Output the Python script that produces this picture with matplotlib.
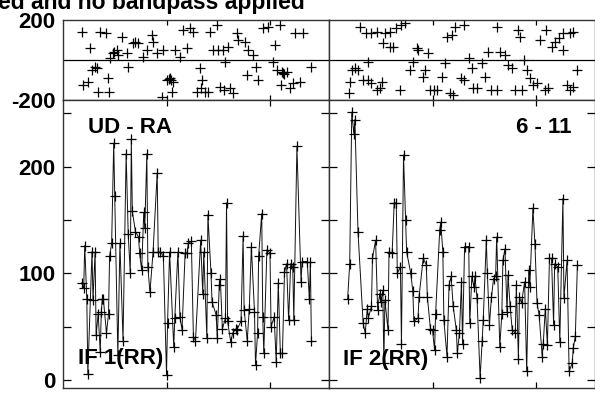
import matplotlib
matplotlib.use("Agg")
from matplotlib import pyplot as plt

# Amplitud (panel inferior) - tiempo en horas relativas
T_AMP_IF1 = [0.18, 0.20, 0.21, 0.23, 0.24, 0.28, 0.29, 0.31, 0.32, 0.34, 0.36, 0.37, 0.38, 0.39,
             0.42, 0.44, 0.45, 0.47, 0.49, 0.50, 0.53, 0.55, 0.58, 0.61, 0.63, 0.65, 0.66, 0.67,
             0.70, 0.73, 0.74, 0.76, 0.78, 0.79, 0.81, 0.82, 0.84, 0.87, 0.91, 0.92, 0.94, 0.97,
             1.00, 1.01, 1.03, 1.07, 1.08, 1.11, 1.13, 1.15, 1.18, 1.20, 1.21, 1.24, 1.26, 1.28,
             1.33, 1.35, 1.36, 1.39, 1.40, 1.43, 1.44, 1.48, 1.49, 1.51, 1.52, 1.54, 1.57, 1.58,
             1.59, 1.62, 1.64, 1.67, 1.68, 1.72, 1.74, 1.75, 1.78, 1.80, 1.82, 1.85, 1.86, 1.88,
             1.89, 1.92, 1.93, 1.94, 1.97, 2.00, 2.01, 2.04, 2.06, 2.08, 2.10, 2.12, 2.14, 2.16,
             2.18, 2.20, 2.22, 2.23, 2.26, 2.30, 2.31, 2.36, 2.38, 2.39, 2.40]
AMP_IF1 = [91, 86, 126, 76, 6, 120, 75, 120, 42, 62, 26, 64, 76, 76,
           44, 62, 116, 128, 222, 172, 23, 128, 37, 212, 137, 100, 226, 158,
           139, 134, 119, 103, 157, 142, 212, 106, 82, 120, 194, 120, 120, 116,
           5, 53, 120, 31, 58, 120, 59, 47, 119, 119, 128, 130, 40, 37,
           131, 81, 120, 39, 155, 100, 73, 61, 39, 89, 95, 48, 58, 166,
           55, 36, 44, 48, 47, 55, 135, 66, 37, 67, 125, 64, 14, 44,
           116, 156, 59, 25, 122, 119, 50, 59, 17, 91, 25, 25, 101, 109,
           56, 109, 106, 56, 219, 92, 111, 111, 76, 111, 37]

T_AMP_IF2 = [0.18, 0.20, 0.22, 0.24, 0.25, 0.28, 0.33, 0.35, 0.37, 0.38, 0.41, 0.42, 0.45, 0.47,
             0.49, 0.50, 0.52, 0.53, 0.54, 0.57, 0.58, 0.61, 0.63, 0.65, 0.66, 0.69, 0.70, 0.72,
             0.74, 0.75, 0.79, 0.81, 0.82, 0.86, 0.87, 0.91, 0.94, 0.95, 0.98, 1.00, 1.02, 1.03,
             1.07, 1.08, 1.10, 1.11, 1.14, 1.16, 1.18, 1.20, 1.23, 1.24, 1.26, 1.28, 1.29, 1.31,
             1.35, 1.36, 1.38, 1.40, 1.41, 1.43, 1.46, 1.48, 1.49, 1.52, 1.53, 1.55, 1.57, 1.59,
             1.61, 1.62, 1.65, 1.67, 1.68, 1.70, 1.72, 1.73, 1.75, 1.77, 1.80, 1.81, 1.83, 1.84,
             1.86, 1.89, 1.91, 1.93, 1.94, 1.97, 1.99, 2.01, 2.03, 2.06, 2.07, 2.09, 2.11, 2.13,
             2.15, 2.17, 2.18, 2.21, 2.23, 2.26, 2.27, 2.30, 2.32, 2.35, 2.36, 2.38, 2.40]
AMP_IF2 = [76, 109, 251, 231, 244, 139, 53, 44, 67, 58, 69, 114, 131, 66,
           81, 73, 84, 16, 75, 47, 120, 119, 166, 166, 100, 106, 34, 211,
           150, 120, 100, 83, 55, 58, 78, 114, 108, 78, 48, 47, 28, 62,
           141, 148, 120, 56, 22, 89, 97, 69, 47, 25, 44, 92, 34, 125,
           125, 53, 97, 87, 97, 77, 2, 37, 56, 131, 100, 52, 78, 95,
           97, 134, 31, 62, 112, 123, 64, 98, 69, 47, 44, 89, 20, 78,
           72, 92, 8, 103, 87, 161, 127, 72, 61, 22, 34, 67, 33, 114,
           114, 52, 109, 106, 36, 170, 77, 112, 8, 16, 30, 41, 108]

# Fase (panel superior)
T_PHS_IF1 = [0.18, 0.19, 0.24, 0.26, 0.28, 0.31, 0.33, 0.34, 0.36, 0.42, 0.43, 0.44, 0.45, 0.48,
             0.49, 0.52, 0.53, 0.57, 0.62, 0.63, 0.68, 0.70, 0.72, 0.77, 0.81, 0.86, 0.87, 0.91,
             0.96, 0.97, 1.00, 1.02, 1.03, 1.04, 1.05, 1.06, 1.08, 1.13, 1.16, 1.20, 1.23, 1.26,
             1.29, 1.32, 1.33, 1.34, 1.37, 1.40, 1.42, 1.45, 1.49, 1.50, 1.52, 1.55, 1.56, 1.57,
             1.59, 1.61, 1.64, 1.68, 1.69, 1.76, 1.78, 1.79, 1.84, 1.86, 1.88, 1.93, 1.98, 2.03,
             2.05, 2.07, 2.10, 2.11, 2.12, 2.13, 2.14, 2.16, 2.19, 2.22, 2.24, 2.29, 2.32, 2.40]
PHS_IF1 = [142, -125, -108, 58, -50, -33, -42, -158, 142, 133, -92, -158, 8, 33,
           42, 50, 25, 117, 33, -33, 83, 92, 83, 17, 50, 125, 92, 33,
           -183, 50, -100, -95, -92, -100, -158, -108, 50, 17, 150, 58, 158, 142,
           -158, -42, -142, -100, -158, -158, 142, 50, 175, 50, -133, 50, -150, -8,
           67, -142, -167, 133, 100, 92, -75, 50, 25, -33, -100, 158, 167, -8,
           75, -50, 175, -125, -62, -67, -72, -58, -142, -117, 133, -108, 133, -33]

T_PHS_IF2 = [0.19, 0.20, 0.22, 0.25, 0.28, 0.30, 0.33, 0.36, 0.38, 0.38, 0.41, 0.41, 0.46, 0.46,
             0.49, 0.51, 0.52, 0.54, 0.59, 0.59, 0.62, 0.65, 0.69, 0.70, 0.73, 0.78, 0.81, 0.85,
             0.86, 0.91, 0.93, 0.96, 0.98, 1.01, 1.04, 1.09, 1.12, 1.14, 1.17, 1.19, 1.20, 1.22,
             1.28, 1.30, 1.30, 1.35, 1.38, 1.39, 1.43, 1.48, 1.51, 1.54, 1.57, 1.62, 1.62, 1.65,
             1.70, 1.73, 1.77, 1.80, 1.83, 1.85, 1.86, 1.88, 1.91, 1.94, 1.97, 2.01, 2.04, 2.09,
             2.10, 2.12, 2.15, 2.18, 2.22, 2.26, 2.26, 2.30, 2.33, 2.33, 2.36, 2.36, 2.40]
PHS_IF2 = [-167, -108, -50, -42, -50, 167, -100, 133, -8, -100, 133, -117, 142, -150,
           -142, -108, 83, 133, 142, 67, 67, 158, -150, 175, 183, -50, -8, 58,
           50, -83, -50, 33, -150, -150, -150, -83, -17, 117, -167, 125, -175, 167,
           -92, 175, -100, 8, -42, -142, -142, -17, -83, 42, -150, -150, 167, 42,
           25, -25, -42, -150, 150, 117, -150, 0, -50, -92, -125, -117, 100, -150,
           150, -142, 67, 92, 108, 133, 50, -125, 133, -150, 142, -133, -50]

TITULO = "ed and no bandpass applied"
FONTE = "Liberation Sans"
W, H = 595, 397


def fx(px):
    return px / W


def fy(py):
    return 1 - py / H


plt.rcParams['font.family'] = FONTE
plt.rcParams['font.weight'] = 'bold'
plt.rcParams['axes.unicode_minus'] = False
fig = plt.figure(figsize=(W / 100, H / 100), dpi=100)

painel_x = [(63, 329), (329, 595)]
dados = [(T_AMP_IF1, AMP_IF1, T_PHS_IF1, PHS_IF1), (T_AMP_IF2, AMP_IF2, T_PHS_IF2, PHS_IF2)]

for i, ((x0, x1), (ta, amp, tp, phs)) in enumerate(zip(painel_x, dados)):
    xmax = (x1 - x0) / 103.5
    # painel de fase
    axp = fig.add_axes([fx(x0), fy(100), (x1 - x0) / W, 80 / H])
    axp.plot(tp, phs, ls='none', marker='+', color='black', markersize=7.5, markeredgewidth=0.9)
    axp.axhline(0, color='black', lw=0.9)
    axp.set_xlim(0, xmax)
    axp.set_ylim(-200, 200)
    axp.set_xticks([1, 2])
    axp.set_xticklabels([])
    axp.set_yticks([-200, 200])
    axp.tick_params(axis='x', direction='in', top=True, bottom=True, length=3.8, width=0.9)
    axp.tick_params(axis='y', length=0, pad=5.5, labelsize=16)
    if i == 1:
        axp.set_yticklabels([])

    # painel de amplitude
    axa = fig.add_axes([fx(x0), fy(388), (x1 - x0) / W, 288 / H])
    axa.plot(ta, amp, color='#111111', lw=0.7, marker='+', markersize=7.5,
             markeredgewidth=0.9, markeredgecolor='black')
    axa.set_xlim(0, xmax)
    axa.set_ylim(-7.5, 262.4)
    axa.set_xticks([1, 2])
    axa.set_xticklabels([])
    axa.set_yticks([0, 100, 200])
    axa.set_yticks([50, 150, 250], minor=True)
    axa.tick_params(axis='x', direction='in', top=True, bottom=True, length=4.5, width=0.9)
    axa.tick_params(axis='y', which='both', direction='in', left=True, right=True,
                    length=6, width=0.9, pad=5.5, labelsize=16)
    if i == 1:
        axa.set_yticklabels([])

    for ax in (axp, axa):
        for s in ax.spines.values():
            s.set_linewidth(1.0)
            s.set_color('#333333')

fig.text(fx(305), fy(9.5), TITULO, ha='right', va='baseline', fontsize=16.5, fontweight='bold')
fig.text(fx(88), fy(133), "UD - RA", ha='left', va='baseline', fontsize=16, fontweight='bold')
fig.text(fx(572), fy(133), "6 - 11", ha='right', va='baseline', fontsize=16, fontweight='bold')
fig.text(fx(78), fy(364), "IF 1(RR)", ha='left', va='baseline', fontsize=16, fontweight='bold')
fig.text(fx(343), fy(365), "IF 2(RR)", ha='left', va='baseline', fontsize=16, fontweight='bold')

plt.savefig("out.png", dpi=100)
